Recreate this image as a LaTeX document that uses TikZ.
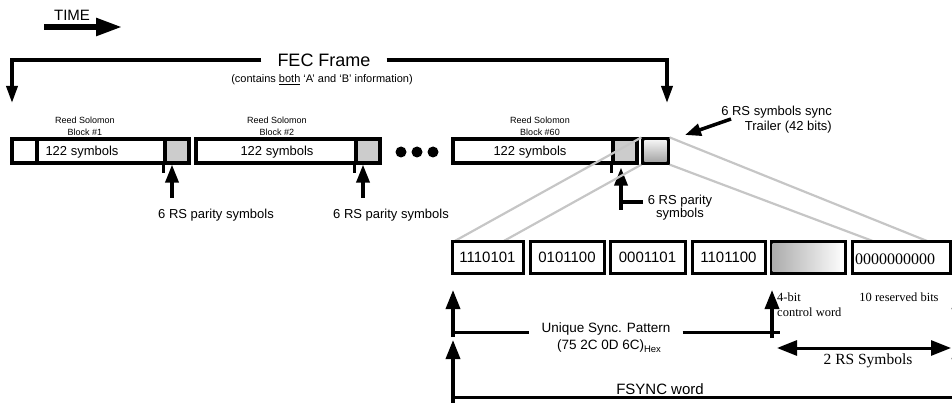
\documentclass[tikz,border=0pt]{standalone}
\usepackage{fontspec}
\setmainfont{Liberation Sans}
\newfontfamily\tms{Liberation Serif}
\usetikzlibrary{arrows.meta,calc}
\begin{document}
\begin{tikzpicture}[x=1pt,y=-1pt,
  cell/.style={draw,line width=3.2pt,inner sep=0pt,minimum height=24pt},
  parity/.style={cell,minimum width=24pt,fill=gray!40},
  bitbox/.style={draw,line width=3pt,inner sep=0pt,minimum height=31pt,fill=white,font=\fontsize{15}{17}\selectfont},
  txt/.style={inner sep=0pt,align=center},
  small/.style={txt,font=\fontsize{9}{12}\selectfont},
  sym/.style={txt,font=\fontsize{13}{13}\selectfont},
  serif/.style={inner sep=0pt,font=\tms\fontsize{12.5}{15}\selectfont},
  upshort/.style={line width=3.5pt,-{Triangle[length=18pt,width=13pt]}},
  uplong/.style={line width=3.5pt,-{Triangle[length=19pt,width=14pt]}},
  bracket/.style={line width=3.5pt,line join=miter,-{Triangle[length=17pt,width=11pt]}},
  graylink/.style={draw=gray!45,line width=2.2pt},
  rule/.style={line width=3pt},
  tick/.style={line width=2.5pt},
  ]
\useasboundingbox (0,0) rectangle (952,403);

% TIME
\node[txt,font=\fontsize{15}{18}\selectfont] (time) at (72,15) {TIME};
\coordinate (ts) at (44,27);
\coordinate (te) at (122,27);
\draw[line width=5.5pt,-{Triangle[length=26pt,width=17pt]}] (ts) -- (te);

% FEC frame bracket
\node[txt,font=\fontsize{18}{20}\selectfont,inner xsep=16pt] (fec) at (324,60) {FEC Frame};
\node[txt,font=\fontsize{11}{13}\selectfont] (sub) at (322,80) {(contains \underline{both} ‘A’ and ‘B’ information)};
\coordinate (fl) at (12,103);
\coordinate (fr) at (667,103);
\draw[bracket] (fec.west) -| (fl);
\draw[bracket] (fec.east) -| (fr);

% block labels
\node[small] (rs1) at (85,126) {Reed Solomon\\Block \#1};
\node[small] (rs2) at (277,126) {Reed Solomon\\Block \#2};
\node[small] (rs60) at (540,126) {Reed Solomon\\Block \#60};

% block 1
\node[cell,minimum width=25pt] (b1a) at (24.5,151) {};
\node[cell,minimum width=128pt] (b1b) at (101,151) {};
\node[parity] (b1c) at (177,151) {};
\node[sym] (s1) at (82,152) {122 symbols};
% block 2
\node[cell,minimum width=160pt] (b2a) at (276,151) {};
\node[parity] (b2b) at (368,151) {};
\node[sym] (s2) at (277,152) {122 symbols};
% dots
\node[circle,fill,inner sep=0pt,minimum size=11pt] (d1) at (401,152) {};
\node[circle,fill,inner sep=0pt,minimum size=11pt] (d2) at (417,152) {};
\node[circle,fill,inner sep=0pt,minimum size=11pt] (d3) at (433,152) {};
% block 60
\node[cell,minimum width=160pt] (b60a) at (533,151) {};
\node[parity] (b60b) at (625,151) {};
\node[sym] (s60) at (530,152) {122 symbols};
% trailer
\node[cell,minimum width=25pt] (tr) at (655.5,151) {};
\shade[top color=gray!10,bottom color=gray!70] ($(tr.north west)+(3,3)$) rectangle ($(tr.south east)+(-3,-3)$);

% divider ticks
\draw[tick] (b1c.south west) -- ++(0,8);
\draw[tick] (b2b.south west) -- ++(0,8);
\draw[tick] (b60b.south west) -- ++(0,8);

% parity arrows and labels
\node[sym] (p1) at (216,215) {6 RS parity symbols};
\node[sym] (p2) at (391,215) {6 RS parity symbols};
\coordinate (p1b) at (172,198);
\coordinate (p2b) at (363,198);
\draw[upshort] (p1b) -- (p1b |- b1c.south);
\draw[upshort] (p2b) -- (p2b |- b2b.south);
\node[txt,font=\fontsize{13}{13}\selectfont] (p60) at (680,207.5) {6 RS parity\\symbols};
\coordinate (p60c) at (621,210);
\coordinate (p60h) at (643,202);
\draw[upshort] (p60c) -- ($(p60c |- b60b.south)+(0,3)$);
\draw[line width=3.5pt] (p60h) -- (p60h -| p60c);

% trailer label
\node[txt,align=right,anchor=east,font=\fontsize{13}{15.5}\selectfont] (trl) at (832,119.5) {6 RS symbols sync\\Trailer (42 bits)};
\coordinate (tra) at (731,119);
\coordinate (trt) at (685,135);
\draw[line width=3.5pt,-{Triangle[length=16pt,width=12pt]}] (tra) -- (trt);

% gray links to the expanded trailer
\coordinate (g1) at (453,242);
\coordinate (g2) at (502,242);
\coordinate (g3) at (932,243);
\coordinate (g4) at (878,243);
\draw[graylink] (tr.north west) -- (g1);
\draw[graylink] (tr.south west) -- (g2);
\draw[graylink] (tr.north east) -- (g3);
\draw[graylink] (tr.south east) -- (g4);

% bottom boxes
\node[bitbox,minimum width=71pt] (c1) at (487.5,257.5) {1110101};
\node[bitbox,minimum width=74pt] (c2) at (567,257.5) {0101100};
\node[bitbox,minimum width=75pt] (c3) at (647.5,257.5) {0001101};
\node[bitbox,minimum width=73pt] (c4) at (728.5,257.5) {1101100};
\node[bitbox,minimum width=74pt] (c5) at (808,257.5) {};
\shade[left color=gray!65,right color=gray!5] ($(c5.north west)+(3,3.5)$) rectangle ($(c5.south east)+(-7,-3.5)$);
\node[bitbox,minimum width=98pt] (c6) at (901,257.5) {};
\node[anchor=west,inner sep=0pt,font=\tms\fontsize{16}{17}\selectfont] (zeros) at (855,259) {0000000000};

% bottom annotations
\coordinate (a1b) at (453,337);
\coordinate (a1t) at (453,290);
\draw[uplong] (a1b) -- (a1t);
\coordinate (a2b) at (453,406);
\coordinate (a2t) at (453,340);
\draw[uplong] (a2b) -- (a2t);
\coordinate (a3b) at (772,338);
\coordinate (a3t) at (772,290);
\draw[uplong] (a3b) -- (a3t);
\coordinate (a4b) at (959,338);
\coordinate (a4t) at (959,290);
\draw[uplong] (a4b) -- (a4t);
\coordinate (a5b) at (959,406);
\coordinate (a5t) at (959,340);
\draw[uplong] (a5b) -- (a5t);

\node[txt,font=\fontsize{13.5}{16}\selectfont,inner xsep=12pt] (usp) at (606,329) {Unique Sync. Pattern};
\node[txt,font=\fontsize{13.5}{16}\selectfont] (hex) at (609,346) {(75 2C 0D 6C)\raisebox{-3pt}{\fontsize{9.5}{10}\selectfont Hex}};
\coordinate (ul) at (453,332);
\coordinate (ur) at (780,332);
\draw[rule] (ul) -- (ul -| usp.west);
\draw[rule] (usp.east |- ur) -- (ur);

\node[anchor=west,align=left,serif] (cw) at (777,304.5) {4-bit\\control word};
\node[serif] (rsv) at (899,297) {10 reserved bits};

\coordinate (rl) at (777,348);
\coordinate (rr) at (951,348);
\draw[line width=3pt,{Triangle[length=20pt,width=15pt]}-{Triangle[length=20pt,width=15pt]}] (rl) -- (rr);
\node[inner sep=0pt,font=\tms\fontsize{15.5}{17}\selectfont] (rs2sym) at (868,361) {2 RS Symbols};

\node[txt,font=\fontsize{15}{17}\selectfont] (fs) at (660,389) {FSYNC word};
\coordinate (fsl) at (453,397);
\coordinate (fsr) at (960,397);
\draw[line width=3pt] (fsl) -- (fsr);
\end{tikzpicture}
\end{document}
